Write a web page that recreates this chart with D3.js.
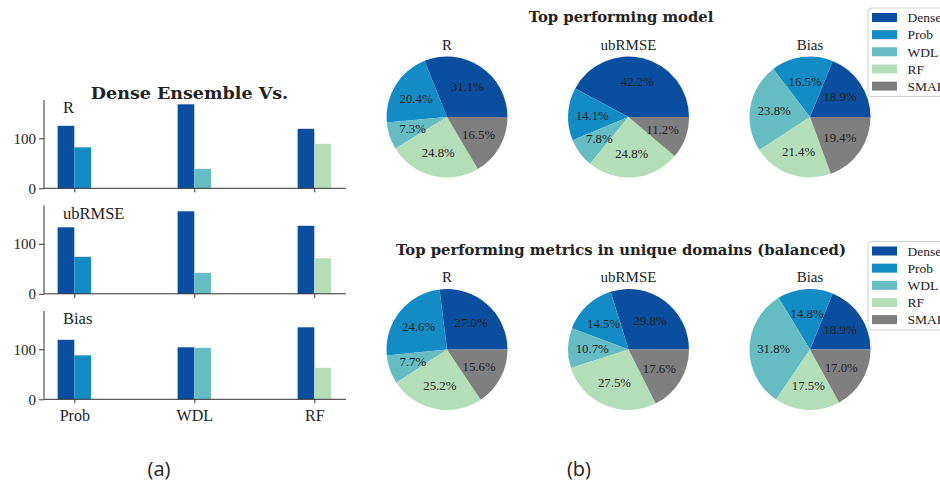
<!DOCTYPE html>
<html>
<head>
<meta charset="utf-8">
<script src="https://cdn.jsdelivr.net/npm/d3@7"></script>
<style>
  html, body { margin: 0; padding: 0; background: #fff; }
  svg { display: block; }
  text { font-family: "Liberation Serif", "DejaVu Serif", serif; fill: #222; }
  .title { font-family: "DejaVu Serif", serif; font-weight: bold; }
</style>
</head>
<body>
<svg id="fig" width="940" height="486"></svg>
<script>
// ---- data ----
const categories = ["Prob", "WDL", "RF"];
const barMetrics = ["R", "ubRMSE", "Bias"];
// number of domains where the Dense ensemble wins vs. where the competitor wins
const denseWins = [
  [125, 168, 119],
  [133, 165, 136],
  [119, 104, 144]
];
const rivalWins = [
  [82, 39, 89],
  [74, 42, 71],
  [88, 103, 63]
];
const yTicks = [0, 100];

const models = ["Dense", "Prob", "WDL", "RF", "SMAP"];
const pieMetrics = ["R", "ubRMSE", "Bias"];
const topModelShares = [
  [31.1, 20.4, 7.3, 24.8, 16.5],
  [42.2, 14.1, 7.8, 24.8, 11.2],
  [18.9, 16.5, 23.8, 21.4, 19.4]
];
const uniqueDomainShares = [
  [27.0, 24.6, 7.7, 25.2, 15.6],
  [29.8, 14.5, 10.7, 27.5, 17.6],
  [18.9, 14.8, 31.8, 17.5, 17.0]
];
const modelColors = ["#0a4e9f", "#138cc6", "#65bcc3", "#b4deb8", "#7f7f7f"];

const svg = d3.select("#fig");

// ---- (a) bar panels ----
const x = d3.scaleLinear().domain([-0.2525, 2.2642]).range([44, 346]);
const barW = x(0.139) - x(0);
const panelTops = [100, 205.5, 311];
const panelH = 88.3;

barMetrics.forEach((m, p) => {
  const top = panelTops[p];
  const y = d3.scaleLinear().domain([0, 176.6]).range([top + panelH, top]);
  const g = svg.append("g");

  // dense bars (left of tick)
  g.selectAll("rect.dense").data(denseWins[p]).join("rect")
    .attr("x", (d, i) => x(i) - barW)
    .attr("y", d => y(d))
    .attr("width", barW)
    .attr("height", d => y(0) - y(d))
    .attr("fill", modelColors[0]);
  // competitor bars (right of tick)
  g.selectAll("rect.rival").data(rivalWins[p]).join("rect")
    .attr("x", (d, i) => x(i))
    .attr("y", d => y(d))
    .attr("width", barW)
    .attr("height", d => y(0) - y(d))
    .attr("fill", (d, i) => modelColors[i + 1]);

  // y axis
  const ya = g.append("g").attr("transform", `translate(${x.range()[0]},0)`)
    .call(d3.axisLeft(y).tickValues(yTicks).tickSize(5).tickPadding(3).tickFormat(d3.format("d")));
  ya.select(".domain").attr("d", `M0,${y(0)}V${top}`).attr("stroke", "#333");
  ya.selectAll("line").attr("stroke", "#333");
  ya.selectAll("text").attr("font-size", 15).attr("font-family", "Liberation Serif").attr("fill", "#222");

  // x axis
  const xa = g.append("g").attr("transform", `translate(0,${y(0)})`)
    .call(d3.axisBottom(x).tickValues([0, 1, 2]).tickSize(4).tickPadding(6)
      .tickFormat(i => p === 2 ? categories[i] : ""));
  xa.select(".domain").attr("d", `M${x.range()[0]},0H${x.range()[1]}`).attr("stroke", "#333");
  xa.selectAll("line").attr("stroke", "#333");
  xa.selectAll("text").attr("font-size", 16).attr("font-family", "Liberation Serif").attr("fill", "#222");

  g.append("text").attr("x", 63).attr("y", top + 13)
    .attr("font-size", 16.5).text(m);
});

svg.append("text").attr("class", "title").attr("x", 189.5).attr("y", 98.5).attr("text-anchor", "middle")
  .attr("font-size", 17.5).text("Dense Ensemble Vs.");

// ---- (b) pies ----
const pieCx = [447, 628.5, 810];
const r = 60.5;
const pie = d3.pie().sort(null).value(d => d)
  .startAngle(Math.PI / 2).endAngle(Math.PI / 2 - 2 * Math.PI);
const arc = d3.arc().innerRadius(0).outerRadius(r);
const labelArc = d3.arc().innerRadius(r * 0.6).outerRadius(r * 0.6);

function pieRow(shares, cy, title, titleY, legendTop) {
  svg.append("text").attr("class", "title").attr("x", 621).attr("y", titleY).attr("text-anchor", "middle")
    .attr("font-size", 14.8).text(title);
  shares.forEach((vals, k) => {
    const g = svg.append("g").attr("transform", `translate(${pieCx[k]},${cy})`);
    const arcs = pie(vals);
    g.selectAll("path").data(arcs).join("path")
      .attr("d", arc).attr("fill", (d, i) => modelColors[i]);
    g.selectAll("text.pct").data(arcs).join("text")
      .attr("class", "pct")
      .attr("transform", d => `translate(${labelArc.centroid(d)})`)
      .attr("text-anchor", "middle").attr("dy", "0.35em")
      .attr("font-size", 12.8)
      .text(d => d.value.toFixed(1) + "%");
    g.append("text").attr("x", 0).attr("y", -r - 7).attr("text-anchor", "middle")
      .attr("font-size", 15).text(pieMetrics[k]);
  });
  // legend
  const lg = svg.append("g").attr("transform", `translate(868,${legendTop})`);
  lg.append("rect").attr("x", 0).attr("y", 0).attr("width", 100).attr("height", 88.5)
    .attr("rx", 3).attr("fill", "#fff").attr("stroke", "#cfcfcf");
  models.forEach((mname, i) => {
    const ry = 9.5 + i * 17.15;
    lg.append("rect").attr("x", 4).attr("y", ry - 4.5).attr("width", 25).attr("height", 9)
      .attr("fill", modelColors[i]);
    lg.append("text").attr("x", 39.5).attr("y", ry).attr("dy", "0.35em")
      .attr("font-size", 13.5).text(mname);
  });
}

pieRow(topModelShares, 117, "Top performing model", 21.5, 8);
pieRow(uniqueDomainShares, 349.5, "Top performing metrics in unique domains (balanced)", 254.5, 241.5);

// ---- sub-figure captions ----
svg.append("text").attr("x", 159).attr("y", 476).attr("text-anchor", "middle")
  .attr("font-size", 20).style("font-family", "'Open Sans', sans-serif").text("(a)");
svg.append("text").attr("x", 579).attr("y", 476).attr("text-anchor", "middle")
  .attr("font-size", 20).style("font-family", "'Open Sans', sans-serif").text("(b)");
</script>
</body>
</html>
